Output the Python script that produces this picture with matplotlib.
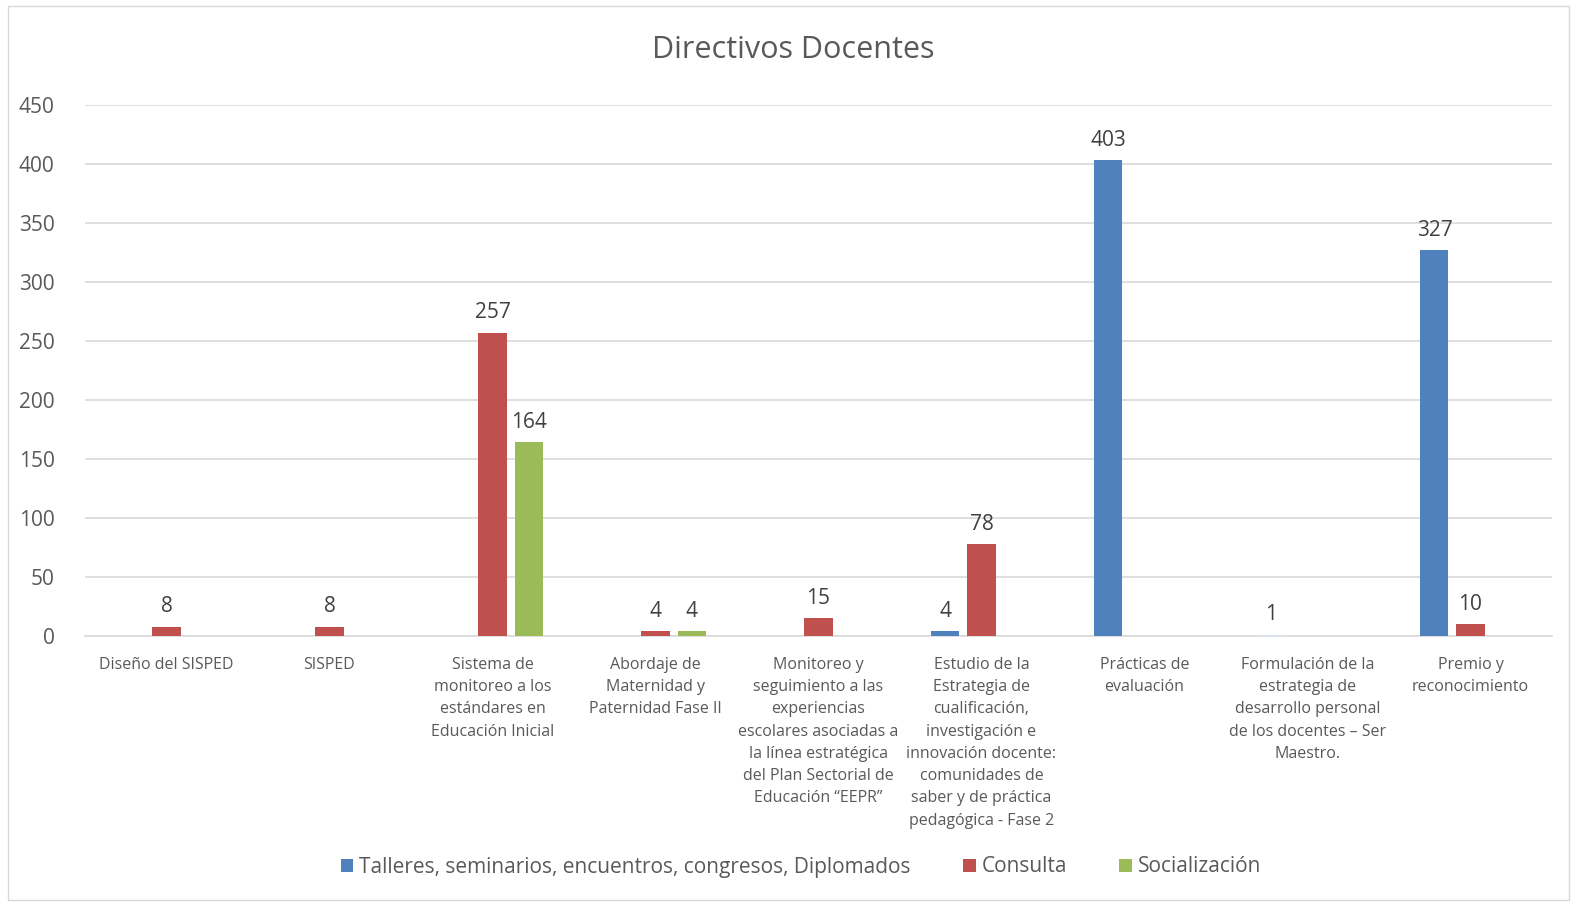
import numpy as np
import matplotlib.pyplot as plt
from matplotlib.patches import Rectangle

categories = [
    "Diseño del SISPED",
    "SISPED",
    "Sistema de\nmonitoreo a los\nestándares en\nEducación Inicial",
    "Abordaje de\nMaternidad y\nPaternidad Fase II",
    "Monitoreo y\nseguimiento a las\nexperiencias\nescolares asociadas a\nla línea estratégica\ndel Plan Sectorial de\nEducación \u201cEEPR\u201d",
    "Estudio de la\nEstrategia de\ncualificación,\ninvestigación e\ninnovación docente:\ncomunidades de\nsaber y de práctica\npedagógica - Fase 2",
    "Prácticas de\nevaluación",
    "Formulación de la\nestrategia de\ndesarrollo personal\nde los docentes \u2013 Ser\nMaestro.",
    "Premio y\nreconocimiento",
]
series_names = ["Talleres, seminarios, encuentros, congresos, Diplomados",
                "Consulta", "Socialización"]
talleres = [0, 0, 0, 0, 0, 4, 403, 1, 327]
consulta = [8, 8, 257, 4, 15, 78, 0, 0, 10]
socializacion = [0, 0, 164, 4, 0, 0, 0, 0, 0]
colors = ["#4f81bd", "#c0504d", "#9bbb59"]

text_col = "#595959"
plt.rcParams['font.family'] = ['Open Sans', 'DejaVu Sans']

fig = plt.figure(figsize=(15.77, 9.06), dpi=100)
fig.patches.append(Rectangle((8/1577, 6/906), 1 - 16/1577, 1 - 12/906,
                             transform=fig.transFigure, fill=False,
                             edgecolor="#d9d9d9", linewidth=1))
ax = fig.add_axes([85/1577, 1 - 636/906, 1467/1577, 531/906])

x = np.arange(len(categories))
offset = 0.221
width = 0.172
data = [talleres, consulta, socializacion]
for i, vals in enumerate(data):
    bars = ax.bar(x + (i - 1) * offset, vals, width, color=colors[i],
                  label=series_names[i], zorder=3)
    for b, v in zip(bars, vals):
        if v > 0:
            ax.text(b.get_x() + b.get_width() / 2, v + 8, str(v),
                    ha="center", va="bottom", fontsize=15, color="#404040")
            if v == 1:
                b.set_color("#dce6f2")

ax.set_xlim(-0.5, len(categories) - 0.5)
ax.set_ylim(0, 450)
ax.set_yticks(range(0, 451, 50))
ax.grid(axis="y", color="#d9d9d9", linewidth=1.2, zorder=0)
for s in ["top", "right", "left"]:
    ax.spines[s].set_visible(False)
ax.spines["bottom"].set_color("#d9d9d9")
ax.spines["bottom"].set_linewidth(1.2)
ax.tick_params(axis="both", length=0, colors=text_col)
ax.tick_params(axis="y", labelsize=15, pad=22)
ax.set_xticks(x)
ax.set_xticklabels(categories, fontsize=11.5, color=text_col, va="top",
                   linespacing=1.52)
ax.tick_params(axis="x", pad=15)

fig.text(0.503, 1 - 50/906, "Directivos Docentes", ha="center", va="center",
         fontsize=22, color=text_col)

fig.legend(loc="center", bbox_to_anchor=(0.508, 1 - 867/906), ncol=3,
           frameon=False, fontsize=15, handlelength=0.6, handleheight=0.6,
           handletextpad=0.3, columnspacing=2.5, labelcolor=text_col)

fig.savefig("out.png", dpi=100)
